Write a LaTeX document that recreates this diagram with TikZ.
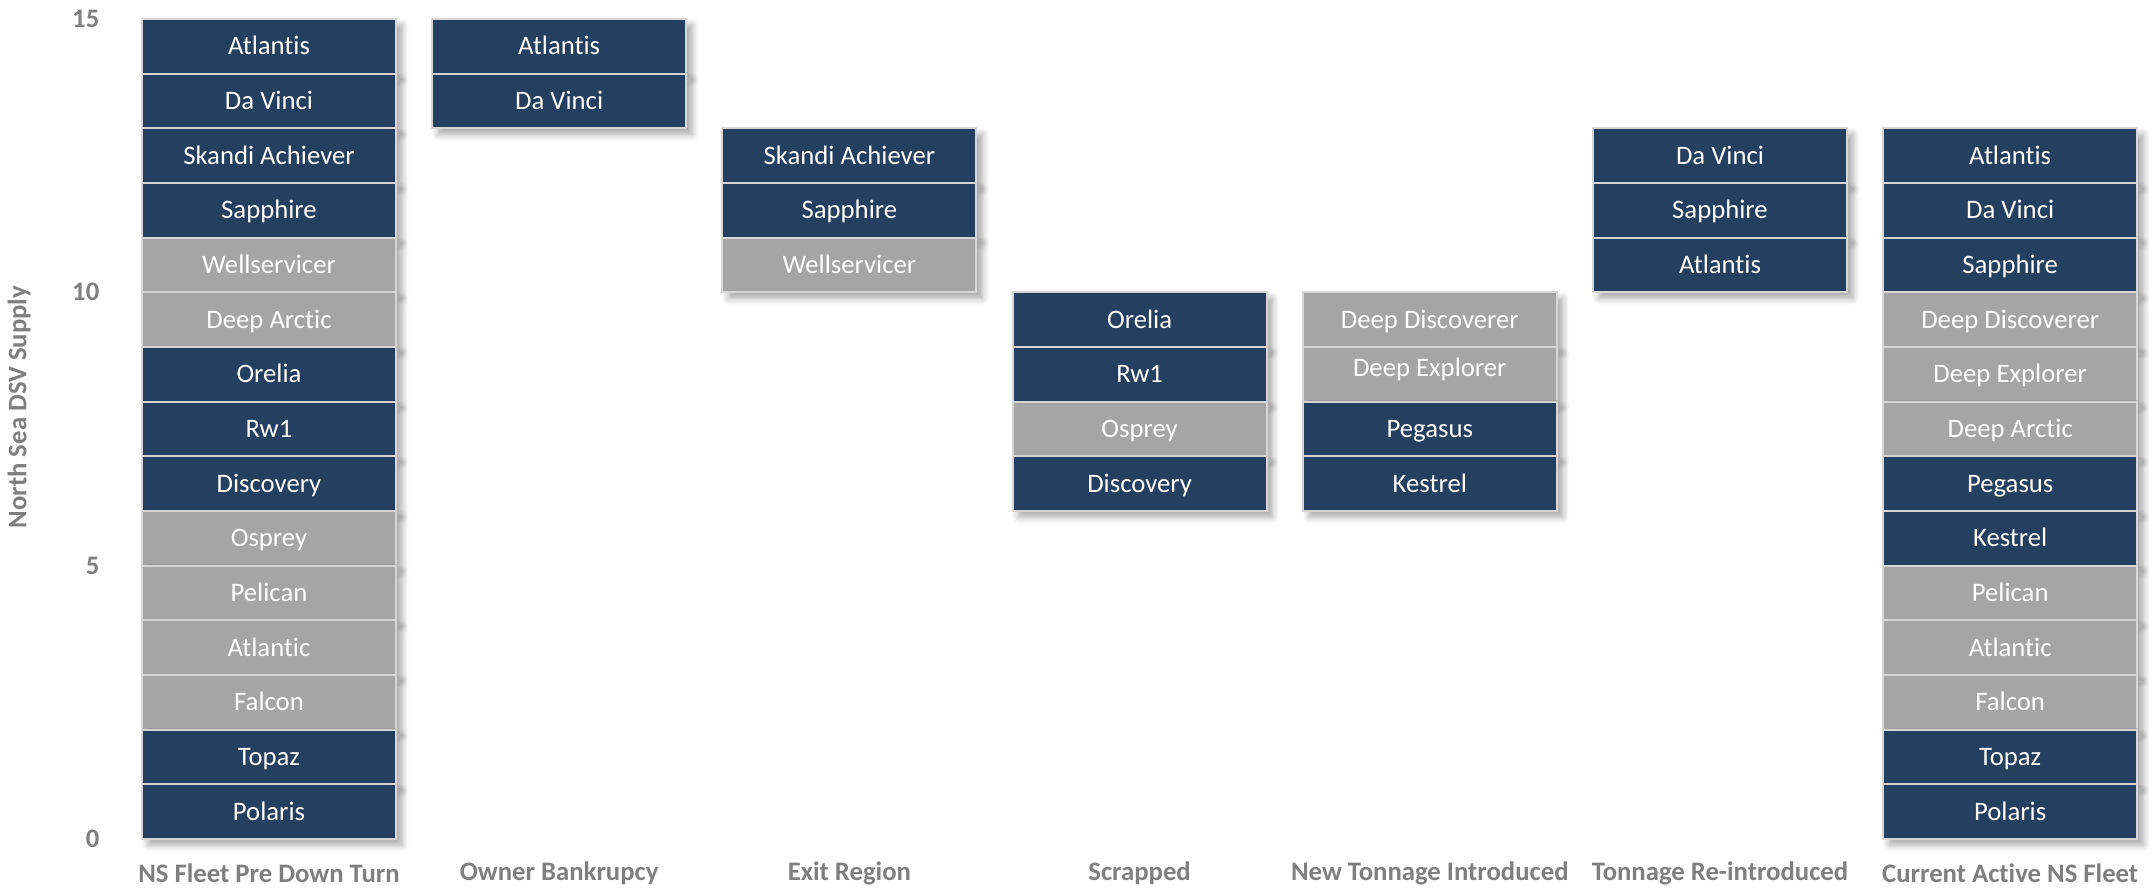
\documentclass[tikz,border=0pt]{standalone}
\usepackage{fontspec}
\setmainfont{Carlito}[Ligatures=CommonOff]
\usetikzlibrary{shadows.blur}
\definecolor{dsvnavy}{HTML}{243F60}
\definecolor{dsvgrey}{HTML}{A5A5A5}
\definecolor{cellline}{HTML}{D6D6D6}
\definecolor{axisgrey}{HTML}{7F7F7F}
\def\ybase{0.55}
\def\yunit{0.5467}
\tikzset{
	cell/.style={draw=cellline, line width=0.6pt, minimum width=2.54cm, minimum height=\yunit cm, inner sep=0pt, text height=0.173cm, text depth=0pt, text=white, font=\fontsize{7.6}{9}\selectfont, blur shadow={shadow xshift=0.6mm, shadow yshift=-0.6mm, shadow blur steps=6, shadow opacity=35}},
	catlabel/.style={text=axisgrey, font=\fontsize{7.6}{9}\selectfont\bfseries},
	ticklabel/.style={text=axisgrey, font=\fontsize{7.6}{9}\selectfont\bfseries, anchor=east, inner sep=0pt}
}
\newcommand\fleetcolumn[4]{\foreach \ship/\kind [count=\i] in {#4} \node[cell, fill=dsv\kind] (#1\i) at (#2, {\ybase+(#3-\i+0.5)*\yunit}) {\ship};}

\begin{document}
\begin{tikzpicture}
				\useasboundingbox (0,0) rectangle (21.52,8.94);
				
				\node[ticklabel] (t0) at (1.0, \ybase) {0};
				\node[ticklabel] (t5) at (1.0, {\ybase+5*\yunit}) {5};
				\node[ticklabel] (t10) at (1.0, {\ybase+10*\yunit}) {10};
				\node[ticklabel] (t15) at (1.0, {\ybase+15*\yunit}) {15};
				\node[catlabel, rotate=90] (ytitle) at (0.19, 4.87) {North Sea DSV Supply};
				
				\fleetcolumn{pre}{2.69}{15}{Atlantis/navy, Da Vinci/navy, Skandi Achiever/navy, Sapphire/navy, Wellservicer/grey, Deep Arctic/grey, Orelia/navy, Rw1/navy, Discovery/navy, Osprey/grey, Pelican/grey, Atlantic/grey, Falcon/grey, Topaz/navy, Polaris/navy}
				\fleetcolumn{bank}{5.592}{15}{Atlantis/navy, Da Vinci/navy}
				\fleetcolumn{exit}{8.494}{13}{Skandi Achiever/navy, Sapphire/navy, Wellservicer/grey}
				\fleetcolumn{scrap}{11.396}{10}{Orelia/navy, Rw1/navy, Osprey/grey, Discovery/navy}
				\fleetcolumn{new}{14.298}{10}{Deep Discoverer/grey, {\raisebox{0.6mm}{Deep Explorer}}/grey, Pegasus/navy, Kestrel/navy}
				\fleetcolumn{back}{17.2}{13}{Da Vinci/navy, Sapphire/navy, Atlantis/navy}
				\fleetcolumn{now}{20.102}{13}{Atlantis/navy, Da Vinci/navy, Sapphire/navy, Deep Discoverer/grey, Deep Explorer/grey, Deep Arctic/grey, Pegasus/navy, Kestrel/navy, Pelican/grey, Atlantic/grey, Falcon/grey, Topaz/navy, Polaris/navy}
				
				\node[catlabel] (lab1) at (2.69, 0.21) {NS Fleet Pre Down Turn};
				\node[catlabel] (lab2) at (5.592, 0.21) {Owner Bankrupcy};
				\node[catlabel] (lab3) at (8.494, 0.21) {Exit Region};
				\node[catlabel] (lab4) at (11.396, 0.21) {Scrapped};
				\node[catlabel] (lab5) at (14.298, 0.21) {New Tonnage Introduced};
				\node[catlabel] (lab6) at (17.2, 0.21) {Tonnage Re-introduced};
				\node[catlabel] (lab7) at (20.102, 0.21) {Current Active NS Fleet};
			\end{tikzpicture}
\end{document}
